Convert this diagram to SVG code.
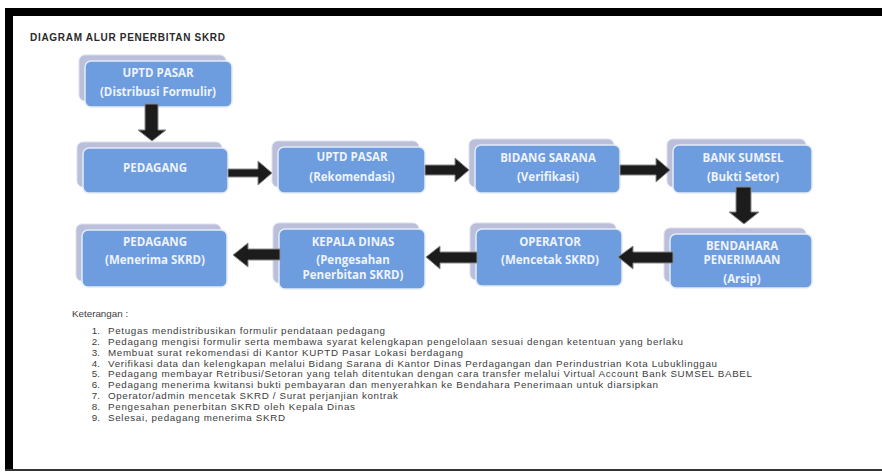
<svg xmlns="http://www.w3.org/2000/svg" width="882" height="473" viewBox="0 0 882 473">
<defs>
<style>
.back{fill:#bbbfd9;stroke:#dcdfee;stroke-width:1}
.front{fill:#6d9cdf;stroke:#e3ebf7;stroke-width:1.5}
.lbl{font-family:"Open Sans",Lato,"Liberation Sans",sans-serif;font-weight:700;font-size:11.5px;fill:#eef3fb;text-anchor:middle}
.arr{fill:#1c1c1c;stroke:#8a8a8a;stroke-width:1}
.leg{font-family:"Liberation Sans",Arial,sans-serif;font-size:9.8px;fill:#3c3c3c}
.num{font-family:"Liberation Sans",Arial,sans-serif;font-size:9.8px;fill:#3c3c3c;text-anchor:end}
</style>
</defs>
<rect x="0" y="0" width="882" height="473" fill="#ffffff"/>
<rect x="5" y="8" width="877" height="8" fill="#000"/>
<rect x="5" y="8" width="8" height="462" fill="#000"/>
<rect x="5" y="469" width="877" height="2" fill="#333"/>
<text x="30" y="41" font-family="'Liberation Sans',Arial,sans-serif" font-weight="700" font-size="10" fill="#2a2a2a" textLength="195">DIAGRAM ALUR PENERBITAN SKRD</text>

<g id="n1"><rect class="back" x="79" y="55" width="147" height="46" rx="6"/><rect class="front" x="85" y="61" width="147" height="46" rx="6"/><text class="lbl" x="158" y="77">UPTD PASAR</text><text class="lbl" x="158" y="96">(Distribusi Formulir)</text></g>
<g id="n2"><rect class="back" x="77" y="142" width="145" height="45" rx="6"/><rect class="front" x="83" y="148" width="145" height="45" rx="6"/><text class="lbl" x="155" y="172">PEDAGANG</text></g>
<g id="n3"><rect class="back" x="272" y="141" width="147" height="46" rx="6"/><rect class="front" x="278" y="147" width="147" height="46" rx="6"/><text class="lbl" x="352" y="161">UPTD PASAR</text><text class="lbl" x="352" y="181">(Rekomendasi)</text></g>
<g id="n4"><rect class="back" x="469" y="139" width="145" height="48" rx="6"/><rect class="front" x="475" y="145" width="145" height="48" rx="6"/><text class="lbl" x="548" y="162">BIDANG SARANA</text><text class="lbl" x="548" y="181">(Verifikasi)</text></g>
<g id="n5"><rect class="back" x="667" y="139" width="139" height="48" rx="6"/><rect class="front" x="673" y="145" width="139" height="48" rx="6"/><text class="lbl" x="743" y="162">BANK SUMSEL</text><text class="lbl" x="743" y="181">(Bukti Setor)</text></g>
<g id="n6"><rect class="back" x="664" y="228" width="142" height="54" rx="6"/><rect class="front" x="670" y="234" width="142" height="54" rx="6"/><text class="lbl" x="742" y="250">BENDAHARA</text><text class="lbl" x="742" y="264">PENERIMAAN</text><text class="lbl" x="742" y="283">(Arsip)</text></g>
<g id="n7"><rect class="back" x="470" y="223" width="146" height="57" rx="6"/><rect class="front" x="476" y="229" width="146" height="57" rx="6"/><text class="lbl" x="550" y="246">OPERATOR</text><text class="lbl" x="550" y="264">(Mencetak SKRD)</text></g>
<g id="n8"><rect class="back" x="273" y="223" width="146" height="60" rx="6"/><rect class="front" x="279" y="229" width="146" height="60" rx="6"/><text class="lbl" x="353" y="246">KEPALA DINAS</text><text class="lbl" x="353" y="264">(Pengesahan</text><text class="lbl" x="353" y="279">Penerbitan SKRD)</text></g>
<g id="n9"><rect class="back" x="76" y="224" width="145" height="57" rx="6"/><rect class="front" x="82" y="230" width="145" height="57" rx="6"/><text class="lbl" x="155" y="246">PEDAGANG</text><text class="lbl" x="155" y="264">(Menerima SKRD)</text></g>

<g id="connectors">
<polygon class="arr" points="145,104 158,104 158,130 166,130 152,141 138,130 145,130"/>
<polygon class="arr" points="228,169 258,169 258,161 272,173 258,185 258,177 228,177"/>
<polygon class="arr" points="425,165 455,165 455,158 469,170 455,182 455,175 425,175"/>
<polygon class="arr" points="620,165 656,165 656,158 670,170 656,182 656,175 620,175"/>
<polygon class="arr" points="736,187 751,187 751,212 759,212 744,224 729,212 736,212"/>
<polygon class="arr" points="673,252 633,252 633,246 618,257 633,269 633,263 673,263"/>
<polygon class="arr" points="477,252 440,252 440,246 426,257 440,269 440,263 477,263"/>
<polygon class="arr" points="280,249 248,249 248,243 233,255 248,267 248,260 280,260"/>
</g>

<g id="legend">
<text class="leg" x="72" y="317">Keterangan :</text>
<text class="num" x="100" y="334">1.</text><text class="leg" x="108" y="334" textLength="277">Petugas mendistribusikan formulir pendataan pedagang</text>
<text class="num" x="100" y="345">2.</text><text class="leg" x="108" y="345" textLength="575">Pedagang mengisi formulir serta membawa syarat kelengkapan pengelolaan sesuai dengan ketentuan yang berlaku</text>
<text class="num" x="100" y="356">3.</text><text class="leg" x="108" y="356" textLength="355">Membuat surat rekomendasi di Kantor KUPTD Pasar Lokasi berdagang</text>
<text class="num" x="100" y="367">4.</text><text class="leg" x="108" y="367" textLength="609">Verifikasi data dan kelengkapan melalui Bidang Sarana di Kantor Dinas Perdagangan dan Perindustrian Kota Lubuklinggau</text>
<text class="num" x="100" y="377">5.</text><text class="leg" x="108" y="377" textLength="644">Pedagang membayar Retribusi/Setoran yang telah ditentukan dengan cara transfer melalui Virtual Account Bank SUMSEL BABEL</text>
<text class="num" x="100" y="388">6.</text><text class="leg" x="108" y="388" textLength="550">Pedagang menerima kwitansi bukti pembayaran dan menyerahkan ke Bendahara Penerimaan untuk diarsipkan</text>
<text class="num" x="100" y="399">7.</text><text class="leg" x="108" y="399" textLength="290">Operator/admin mencetak SKRD / Surat perjanjian kontrak</text>
<text class="num" x="100" y="410">8.</text><text class="leg" x="108" y="410" textLength="247">Pengesahan penerbitan SKRD oleh Kepala Dinas</text>
<text class="num" x="100" y="421">9.</text><text class="leg" x="108" y="421" textLength="177">Selesai, pedagang menerima SKRD</text>
</g>
</svg>
